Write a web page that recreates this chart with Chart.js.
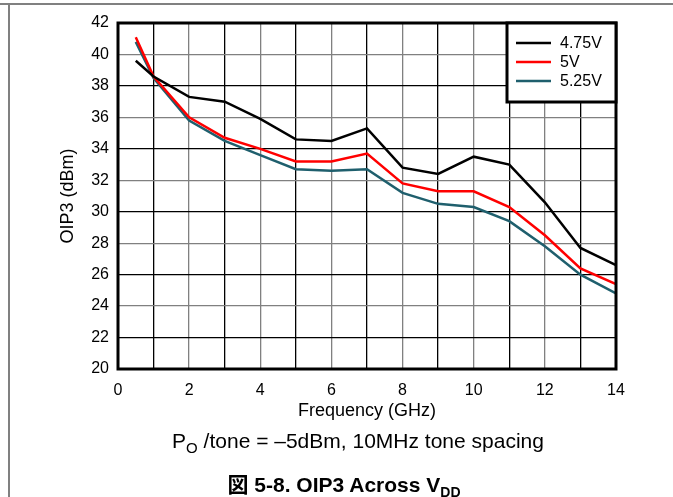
<!DOCTYPE html>
<html>
<head>
<meta charset="utf-8">
<script src="https://cdn.jsdelivr.net/npm/chart.js@4.4.0/dist/chart.umd.min.js"></script>
<style>
  body { margin: 0; background: #fff; font-family: 'Liberation Sans', Arial, sans-serif; }
  #wrap { position: relative; width: 673px; height: 497px; overflow: hidden; }
  #topline { position: absolute; left: 0; top: 3px; width: 673px; height: 2px; background: #808080; }
  #leftline { position: absolute; left: 8px; top: 3px; width: 2px; height: 494px; background: #808080; }
  #box { position: absolute; left: 0; top: 1px; width: 673px; height: 431px; }
  #sub { position: absolute; left: 58px; width: 600px; text-align: center; top: 430px; font-size: 21px; line-height: 21px; white-space: nowrap; }
  #sub sub { font-size: 15px; vertical-align: -5px; line-height: 0; }
  #cap { position: absolute; left: 44px; width: 600px; text-align: center; top: 473px; font-size: 21px; line-height: 21px; font-weight: bold; white-space: nowrap; }
  #cap .cjk { font-family: 'Noto Sans CJK JP', sans-serif; }
  #cap sub { font-size: 14px; vertical-align: -5px; line-height: 0; }
</style>
</head>
<body>
<div id="wrap">
  <div id="topline"></div>
  <div id="leftline"></div>
  <div id="box"><canvas id="myChart"></canvas></div>
  <div id="sub">P<sub>O</sub> /tone = –5dBm, 10MHz tone spacing</div>
  <div id="cap"><span class="cjk">図</span> 5-8. OIP3 Across V<sub>DD</sub></div>
</div>
<script>
var freqGHz = [0.5, 1, 2, 3, 4, 5, 6, 7, 8, 9, 10, 11, 12, 13, 14];
var oip3_475 = [39.6, 38.6, 37.3, 37.0, 35.9, 34.6, 34.5, 35.3, 32.8, 32.4, 33.5, 33.0, 30.6, 27.7, 26.6];
var oip3_500 = [41.1, 38.6, 36.0, 34.7, 34.0, 33.2, 33.2, 33.7, 31.8, 31.3, 31.3, 30.3, 28.5, 26.4, 25.4];
var oip3_525 = [40.8, 38.5, 35.8, 34.5, 33.6, 32.7, 32.6, 32.7, 31.2, 30.5, 30.3, 29.4, 27.8, 26.0, 24.8];
var seriesLabels = ['4.75V', '5V', '5.25V'];
var seriesColors = ['#000000', '#ff0000', '#1f5f6d'];

function pts(vals) {
    return freqGHz.map(function (f, i) { return { x: f, y: vals[i] }; });
}

Chart.defaults.font.family = "'Liberation Sans', Arial, sans-serif";
Chart.defaults.color = '#000';

// frame round the plot + boxed legend
var framePlugin = {
    id: 'frame',
    afterDraw: function (chart) {
        var c = chart.ctx, a = chart.chartArea;
        c.save();
        c.strokeStyle = '#000';
        c.lineWidth = 3;
        c.strokeRect(a.left, a.top, a.right - a.left, a.bottom - a.top);

        var bx = 507, by = a.top, bw = a.right - 507, bh = 79;
        c.fillStyle = '#fff';
        c.fillRect(bx, by, bw, bh);
        c.strokeRect(bx, by, bw, bh);
        c.font = "16px 'Liberation Sans', Arial, sans-serif";
        c.textBaseline = 'middle';
        chart.data.datasets.forEach(function (ds, i) {
            var y = a.top + 20 + i * 19;
            c.strokeStyle = ds.borderColor;
            c.lineWidth = 2.5;
            c.beginPath();
            c.moveTo(516, y);
            c.lineTo(551, y);
            c.stroke();
            c.fillStyle = '#000';
            c.fillText(ds.label, 560, y + 1);
        });
        c.restore();
    }
};

var ctx = document.getElementById('myChart');
var myChart = new Chart(ctx, {
    type: 'line',
    data: {
        datasets: [
            { label: seriesLabels[0], data: pts(oip3_475), borderColor: seriesColors[0] },
            { label: seriesLabels[1], data: pts(oip3_500), borderColor: seriesColors[1] },
            { label: seriesLabels[2], data: pts(oip3_525), borderColor: seriesColors[2] }
        ]
    },
    options: {
        responsive: true,
        maintainAspectRatio: false,
        animation: false,
        elements: {
            line: { borderWidth: 2.5, tension: 0 },
            point: { radius: 0 }
        },
        layout: { padding: { top: 22, right: 57, left: 0, bottom: 0 } },
        plugins: {
            legend: { display: false },
            tooltip: { enabled: false }
        },
        scales: {
            x: {
                type: 'linear',
                min: 0,
                max: 14,
                afterFit: function (s) { s.height = 63; },
                ticks: {
                    stepSize: 1,
                    autoSkip: false,
                    maxRotation: 0,
                    padding: 12,
                    font: { size: 16 },
                    callback: function (v) { return v % 2 === 0 ? v : ''; }
                },
                grid: {
                    drawTicks: false,
                    lineWidth: 1.3,
                    color: function (c) { return c.index % 2 ? '#000' : '#808080'; }
                },
                border: { display: false },
                title: { display: true, text: 'Frequency (GHz)', font: { size: 18 }, padding: { bottom: 10 } }
            },
            y: {
                min: 20,
                max: 42,
                afterFit: function (s) { s.width = 118; },
                ticks: { stepSize: 2, padding: 9, font: { size: 16 } },
                grid: {
                    drawTicks: false,
                    lineWidth: 1.3,
                    color: function (c) { return c.index % 2 ? '#000' : '#808080'; }
                },
                border: { display: false },
                title: { display: true, text: 'OIP3 (dBm)', font: { size: 18 }, padding: { top: 57 } }
            }
        }
    },
    plugins: [framePlugin]
});
</script>
</body>
</html>
